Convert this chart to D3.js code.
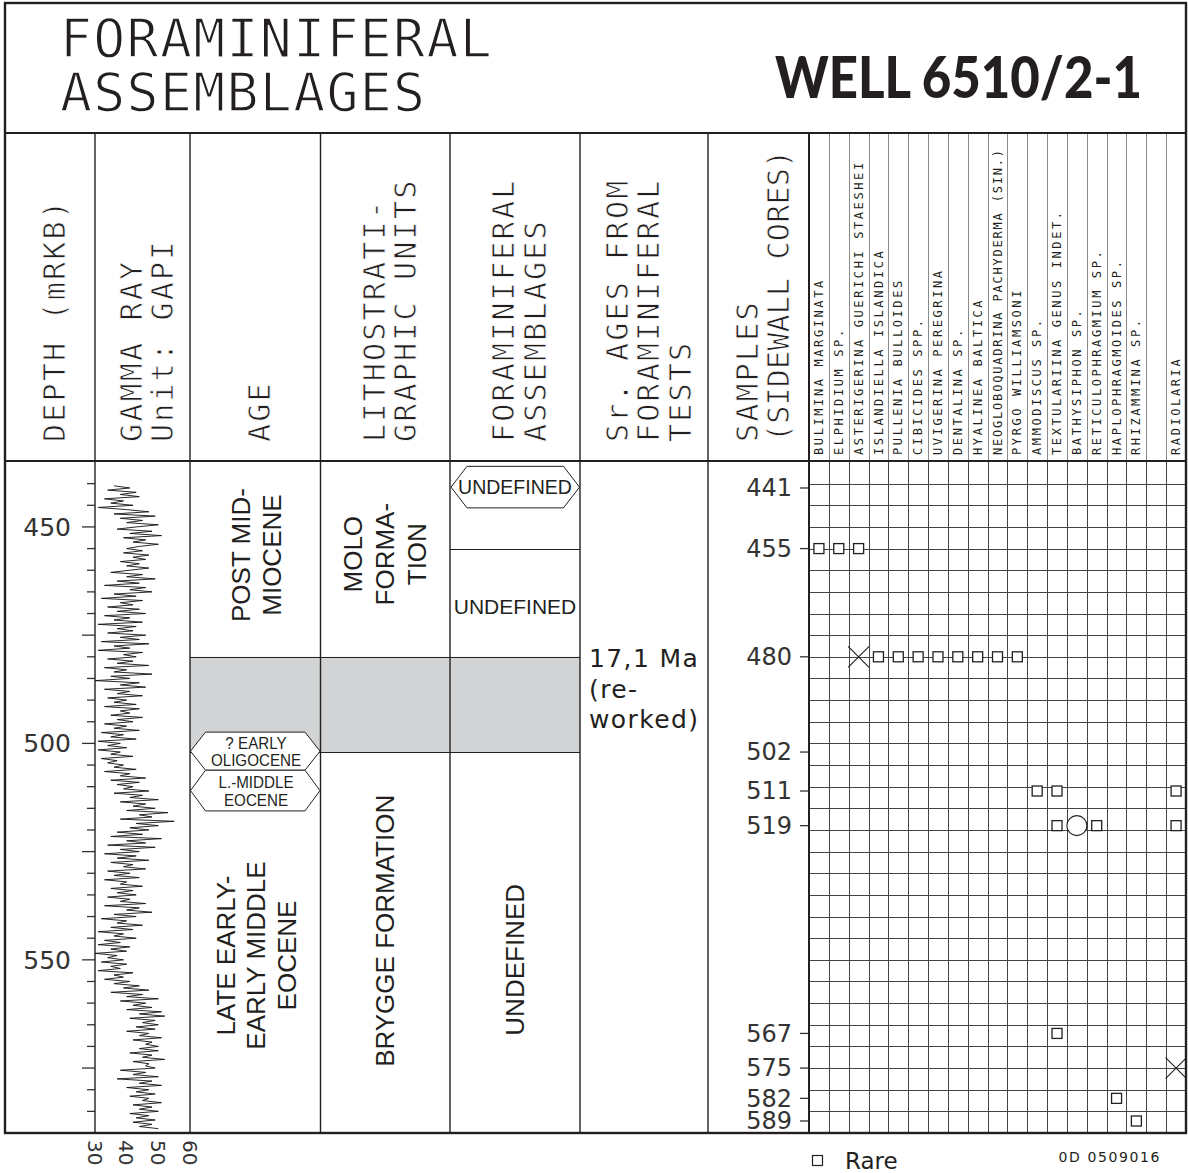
<!DOCTYPE html>
<html>
<head>
<meta charset="utf-8">
<script src="https://cdn.jsdelivr.net/npm/d3@7"></script>
<style>
body { margin: 0; background: #fff; }
svg { display: block; }
text { fill: #231f20; }
.thin { stroke: #fff; paint-order: normal; }
</style>
</head>
<body>
<script>
var width = 1188, height = 1173;
var ink = "#231f20";

var depthDomain = [435, 590];
var depthLabels = [450, 500, 550];
var depthMajor = [450, 475, 500, 525, 550, 575];
var gammaTicks = [30, 40, 50, 60];

// sidewall core samples (m RKB)
var sampleDepths = [441, 455, 480, 502, 511, 519, 567, 575, 582, 589];

var taxa = ["BULIMINA MARGINATA", "ELPHIDIUM SP.", "ASTERIGERINA GUERICHI STAESHEI",
  "ISLANDIELLA ISLANDICA", "PULLENIA BULLOIDES", "CIBICIDES SPP.", "UVIGERINA PEREGRINA",
  "DENTALINA SP.", "HYALINEA BALTICA", "NEOGLOBOQUADRINA PACHYDERMA (SIN.)",
  "PYRGO WILLIAMSONI", "AMMODISCUS SP.", "TEXTULARIINA GENUS INDET.", "BATHYSIPHON SP.",
  "RETICULOPHRAGMIUM SP.", "HAPLOPHRAGMOIDES SP.", "RHIZAMMINA SP.", "", "RADIOLARIA"];

// [sample depth, taxon, abundance]  r = rare, f = few, c = common
var occurrences = [
  [455, "BULIMINA MARGINATA", "r"], [455, "ELPHIDIUM SP.", "r"], [455, "ASTERIGERINA GUERICHI STAESHEI", "r"],
  [480, "ASTERIGERINA GUERICHI STAESHEI", "c"], [480, "ISLANDIELLA ISLANDICA", "r"],
  [480, "PULLENIA BULLOIDES", "r"], [480, "CIBICIDES SPP.", "r"], [480, "UVIGERINA PEREGRINA", "r"],
  [480, "DENTALINA SP.", "r"], [480, "HYALINEA BALTICA", "r"],
  [480, "NEOGLOBOQUADRINA PACHYDERMA (SIN.)", "r"], [480, "PYRGO WILLIAMSONI", "r"],
  [511, "AMMODISCUS SP.", "r"], [511, "TEXTULARIINA GENUS INDET.", "r"], [511, "RADIOLARIA", "r"],
  [519, "TEXTULARIINA GENUS INDET.", "r"], [519, "BATHYSIPHON SP.", "f"],
  [519, "RETICULOPHRAGMIUM SP.", "r"], [519, "RADIOLARIA", "r"],
  [567, "TEXTULARIINA GENUS INDET.", "r"],
  [575, "RADIOLARIA", "c"],
  [582, "HAPLOPHRAGMOIDES SP.", "r"],
  [589, "RHIZAMMINA SP.", "r"]
];

// gamma ray (GAPI), one reading every 0.5 m from 440.5 m
var gammaStart = 440.5, gammaStep = 0.5;
var gammaValues = [
  36,41,34,43,38,44,33,39,35,42, 31,40,47,36,49,38,45,40,50,43,
  37,48,41,51,39,46,42,50,44,40, 45,39,47,42,46,38,44,40,47,41,
  35,45,40,49,37,44,33,46,41,48, 36,43,32,45,38,42,34,44,37,46,
  33,41,36,45,31,43,37,42,34,46, 38,44,32,47,36,41,31,45,39,43,
  34,42,37,47,33,40,36,48,35,41, 30,44,38,46,33,41,37,45,34,40,
  36,43,33,44,38,41,35,45,37,42, 33,40,36,44,32,39,35,43,31,38,
  34,40,31,38,35,42,32,37,34,39, 36,43,33,41,38,46,35,44,37,42,
  39,47,36,45,41,50,38,46,42,49, 40,53,44,48,38,55,43,50,41,47,
  37,45,35,51,40,46,34,49,38,44, 33,43,37,47,35,42,39,46,34,41,
  36,44,33,40,38,45,35,42,37,43, 34,41,38,46,33,44,40,48,36,43,
  32,40,37,45,35,42,31,39,36,43, 33,38,31,41,35,40,30,37,34,39,
  32,40,35,38,31,42,36,39,33,41, 36,44,39,47,35,45,40,50,38,46,
  42,48,40,51,44,52,41,49,45,50, 43,49,40,47,44,51,42,48,46,50,
  44,50,41,48,45,52,42,47,46,49, 38,46,42,50,37,48,44,51,40,47,
  43,49,41,47,45,51,42,48,44,50, 41,47,43,49,42,48,44,50
];

// zonation columns
var ageZones = [
  {top: 435, base: 480, lines: ["POST MID-", "MIOCENE"], labelDepth: 456.5},
  {top: 502, base: 590, lines: ["LATE EARLY-", "EARLY MIDDLE", "EOCENE"], labelDepth: 549}
];
var ageMarkers = [
  {top: 497.4, base: 506.2, lines: ["? EARLY", "OLIGOCENE"]},
  {top: 506.2, base: 515.6, lines: ["L.-MIDDLE", "EOCENE"]}
];
var lithoZones = [
  {top: 435, base: 480, lines: ["MOLO", "FORMA-", "TION"], labelDepth: 456.3},
  {top: 502, base: 590, lines: ["BRYGGE FORMATION"], labelDepth: 543.3}
];
var foramZones = [
  {top: 436, base: 445.6, label: "UNDEFINED", style: "hex"},
  {top: 455, base: 480, label: "UNDEFINED", style: "flat"},
  {top: 502, base: 590, label: "UNDEFINED", style: "vertical", labelDepth: 550}
];
var unconformity = [480, 502];
var srAge = ["17,1 Ma", "(re-", "worked)"];

var headerTitles = [
  ["DEPTH (mRKB)"], ["GAMMA RAY", "Unit: GAPI"], ["AGE"], ["LITHOSTRATI-", "GRAPHIC UNITS"],
  ["FORAMINIFERAL", "ASSEMBLAGES"], ["Sr. AGES FROM", "FORAMINIFERAL", "TESTS"],
  ["SAMPLES", "(SIDEWALL CORES)"]
];

// ---- layout ----
var frameL = 5, frameR = 1186, frameT = 3, headTop = 133, headBottom = 461, bodyBottom = 1133;
var colEdges = [5, 95, 190, 320.5, 450, 580, 708, 809];
var mono = "'DejaVu Sans Mono', monospace";
var sans = "'Liberation Sans', Arial, sans-serif";
var humanist = "'DejaVu Sans', sans-serif";

var y = d3.scaleLinear().domain(depthDomain).range([462, bodyBottom]);
var gx = d3.scaleLinear().domain([30, 60]).range([95, 190]);
var tx = d3.scaleBand().domain(taxa).range([809, frameR]);

function sampleY(d) { return Math.min(y(d), bodyBottom - 12); }
function crisp(v) { return Math.round(v) + 0.5; }

var svg = d3.select("body").append("svg")
    .attr("width", width)
    .attr("height", height)
    .style("font-family", sans);

svg.append("rect").attr("width", width).attr("height", height).attr("fill", "#fff");

// title
var titleG = svg.append("g").attr("class", "thin")
    .style("font-family", mono).style("font-size", "53px").style("stroke-width", "1.3px")
    .style("letter-spacing", "1.4px");
titleG.append("text").attr("x", 60).attr("y", 57).text("FORAMINIFERAL");
titleG.append("text").attr("x", 60).attr("y", 111).text("ASSEMBLAGES");

// well name, squeezed horizontally to the width of the original lettering
var well = svg.append("text")
    .style("font-family", "Lato, 'Open Sans', sans-serif")
    .style("font-weight", 900)
    .style("font-size", "58px")
    .text("WELL 6510/2-1");
var wellW = well.node().getComputedTextLength();
well.attr("transform", "translate(775,98) scale(" + (367 / wellW) + ",1)");

// shaded unconformity band
svg.append("rect")
    .attr("x", 190).attr("y", y(unconformity[0]))
    .attr("width", 580 - 190).attr("height", y(unconformity[1]) - y(unconformity[0]))
    .attr("fill", "#d1d3d4");

// horizontal zone boundaries
var bounds = svg.append("g").attr("stroke", ink).attr("stroke-width", 1.2);
unconformity.forEach(function(d) {
  bounds.append("line").attr("x1", 190).attr("x2", 580).attr("y1", crisp(y(d))).attr("y2", crisp(y(d)));
});
bounds.append("line").attr("x1", 450).attr("x2", 580).attr("y1", crisp(y(455))).attr("y2", crisp(y(455)));

// header titles
var headG = svg.append("g").attr("class", "thin")
    .style("font-family", mono).style("font-size", "30px").style("stroke-width", "0.8px");
headerTitles.forEach(function(lines, i) {
  var cx = (colEdges[i] + colEdges[i + 1]) / 2 + 4;
  var n = lines.length;
  lines.forEach(function(s, j) {
    var bx = cx + (j - (n - 1) / 2) * 31.5 + 11;
    var t = headG.append("text")
        .attr("transform", "translate(" + bx + ",442) rotate(-90)")
        .text(s);
    if (s.length * 20 > 292) {
      t.attr("textLength", 292).attr("lengthAdjust", "spacing");
    } else {
      t.style("letter-spacing", "2.2px");
    }
  });
});

// taxon names
var taxG = svg.append("g").style("font-family", mono).style("font-size", "12px");
taxa.forEach(function(name) {
  if (!name) return;
  var t = taxG.append("text")
      .attr("transform", "translate(" + (tx(name) + 14) + ",455) rotate(-90)")
      .text(name);
  if (name.length * 9.8 > 305) {
    t.attr("textLength", 305).attr("lengthAdjust", "spacing");
  } else {
    t.style("letter-spacing", "2.6px");
  }
});

// taxon grid
var grid = svg.append("g");
tx.domain().forEach(function(name, i) {
  if (i === 0) return;
  var xv = crisp(tx(name));
  grid.append("line").attr("x1", xv).attr("x2", xv).attr("y1", headTop).attr("y2", headBottom)
      .attr("stroke", "#8a8a8a").attr("stroke-width", 1);
  grid.append("line").attr("x1", xv).attr("x2", xv).attr("y1", headBottom).attr("y2", bodyBottom)
      .attr("stroke", "#444").attr("stroke-width", 1);
});
d3.range(440, 590, 5).forEach(function(d) {
  grid.append("line").attr("x1", 809).attr("x2", frameR)
      .attr("y1", crisp(y(d))).attr("y2", crisp(y(d)))
      .attr("stroke", "#444").attr("stroke-width", 1);
});

// depth ticks
var depthG = svg.append("g").attr("stroke", "#333").attr("stroke-width", 1.3);
d3.range(440, 590, 5).forEach(function(d) {
  var major = depthMajor.indexOf(d) >= 0;
  depthG.append("line").attr("x1", major ? 82 : 87).attr("x2", 95)
      .attr("y1", y(d)).attr("y2", y(d));
});
svg.append("g").selectAll("text").data(depthLabels).enter().append("text")
    .attr("x", 71).attr("y", function(d) { return y(d); }).attr("dy", "0.35em")
    .attr("text-anchor", "end")
    .style("font-family", humanist).style("font-size", "25px").style("fill", "#333")
    .text(function(d) { return d; });

// gamma ray curve
var gammaLine = d3.line()
    .x(function(d) { return gx(d); })
    .y(function(d, i) { return y(gammaStart + i * gammaStep); });
svg.append("path").datum(gammaValues)
    .attr("d", gammaLine)
    .attr("fill", "none").attr("stroke", "#111").attr("stroke-width", 0.9)
    .attr("stroke-linejoin", "miter");

svg.append("g").selectAll("text").data(gammaTicks).enter().append("text")
    .attr("transform", function(d) { return "translate(" + (gx(d) - 7.5) + ",1140) rotate(90)"; })
    .style("font-family", humanist).style("font-size", "20px").style("fill", "#333")
    .text(function(d) { return d; });

// rotated multi-line labels
function vtext(lines, cx, cy, size, spacing) {
  var n = lines.length;
  lines.forEach(function(s, i) {
    var bx = cx + (i - (n - 1) / 2) * spacing + size * 0.36;
    svg.append("text")
        .attr("transform", "translate(" + bx + "," + cy + ") rotate(-90)")
        .attr("text-anchor", "middle")
        .style("font-size", size + "px")
        .text(s);
  });
}
function hexagon(x0, x1, y0, y1, inset) {
  var ym = (y0 + y1) / 2;
  return "M" + x0 + "," + ym + "L" + (x0 + inset) + "," + y0 + "L" + (x1 - inset) + "," + y0 +
    "L" + x1 + "," + ym + "L" + (x1 - inset) + "," + y1 + "L" + (x0 + inset) + "," + y1 + "Z";
}

ageZones.forEach(function(z) { vtext(z.lines, 256, y(z.labelDepth), 26, 30.5); });
lithoZones.forEach(function(z) { vtext(z.lines, 385, y(z.labelDepth), 26, 32); });

ageMarkers.forEach(function(m) {
  var y0 = y(m.top), y1 = y(m.base);
  svg.append("path").attr("d", hexagon(190.5, 320, y0, y1, 15))
      .attr("fill", "#fff").attr("stroke", ink).attr("stroke-width", 1);
  var mid = (y0 + y1) / 2;
  m.lines.forEach(function(s, i) {
    svg.append("text")
        .attr("transform", "translate(256," + (mid - 2.5 + (i === 0 ? 0 : 17.5)) + ") scale(0.92,1)")
        .attr("text-anchor", "middle")
        .style("font-size", "16.5px")
        .text(s);
  });
});

foramZones.forEach(function(z) {
  if (z.style === "hex") {
    var y0 = y(z.top), y1 = y(z.base);
    svg.append("path").attr("d", hexagon(451, 579.5, y0, y1, 16))
        .attr("fill", "#fff").attr("stroke", ink).attr("stroke-width", 1);
    svg.append("text").attr("x", 515).attr("y", (y0 + y1) / 2).attr("dy", "0.36em")
        .attr("text-anchor", "middle").style("font-size", "19.5px").text(z.label);
  } else if (z.style === "flat") {
    svg.append("text").attr("x", 515).attr("y", (y(z.top) + y(z.base)) / 2 + 11)
        .attr("text-anchor", "middle").style("font-size", "21px").text(z.label);
  } else {
    vtext([z.label], 515, y(z.labelDepth), 26, 30);
  }
});

// Sr age note
var srG = svg.append("g").style("font-family", humanist).style("font-size", "25px")
    .style("letter-spacing", "1.4px");
srAge.forEach(function(s, i) {
  srG.append("text").attr("x", 589).attr("y", 667 + i * 30.5).text(s);
});

// sample depths
var sampG = svg.append("g");
sampleDepths.forEach(function(d) {
  var yy = sampleY(d);
  sampG.append("line").attr("x1", 800).attr("x2", 809).attr("y1", yy).attr("y2", yy)
      .attr("stroke", "#333").attr("stroke-width", 1.3);
  sampG.append("text").attr("x", 792).attr("y", yy).attr("dy", "0.35em")
      .attr("text-anchor", "end")
      .style("font-family", humanist).style("font-size", "24px").style("fill", "#333")
      .text(d);
});

// occurrence symbols
var occG = svg.append("g");
occurrences.forEach(function(o) {
  var cx = tx(o[1]) + tx.bandwidth() / 2, cy = sampleY(o[0]);
  if (o[2] === "r") {
    occG.append("rect").attr("x", cx - 5).attr("y", cy - 5).attr("width", 10).attr("height", 10)
        .attr("fill", "#fff").attr("stroke", ink).attr("stroke-width", 1.3);
  } else if (o[2] === "c") {
    occG.append("path")
        .attr("d", "M" + (cx - 10.5) + "," + (cy - 10.5) + "L" + (cx + 10.5) + "," + (cy + 10.5) +
          "M" + (cx - 10.5) + "," + (cy + 10.5) + "L" + (cx + 10.5) + "," + (cy - 10.5))
        .attr("stroke", ink).attr("stroke-width", 1.1).attr("fill", "none");
  } else {
    occG.append("circle").attr("cx", cx).attr("cy", cy).attr("r", 10)
        .attr("fill", "#fff").attr("stroke", ink).attr("stroke-width", 1.1);
  }
});

// frame and column rules
var frame = svg.append("g").attr("stroke", ink).attr("fill", "none");
frame.append("rect").attr("x", frameL).attr("y", frameT)
    .attr("width", frameR - frameL).attr("height", bodyBottom - frameT).attr("stroke-width", 2.4);
frame.append("line").attr("x1", frameL).attr("x2", frameR).attr("y1", headTop).attr("y2", headTop).attr("stroke-width", 2);
frame.append("line").attr("x1", frameL).attr("x2", frameR).attr("y1", headBottom).attr("y2", headBottom).attr("stroke-width", 2);
colEdges.slice(1).forEach(function(xv, i) {
  frame.append("line").attr("x1", xv).attr("x2", xv).attr("y1", headTop).attr("y2", bodyBottom)
      .attr("stroke-width", i === colEdges.length - 2 ? 2 : 1.4);
});

// legend and drawing number
svg.append("rect").attr("x", 812.5).attr("y", 1155.5).attr("width", 10).attr("height", 10)
    .attr("fill", "#fff").attr("stroke", ink).attr("stroke-width", 1.2);
svg.append("text").attr("x", 845).attr("y", 1169)
    .style("font-family", humanist).style("font-size", "23px").text("Rare");
svg.append("text").attr("x", 1161).attr("y", 1162).attr("text-anchor", "end")
    .style("font-family", humanist).style("font-size", "14px").style("letter-spacing", "1.6px")
    .text("0D 0509016");
</script>
</body>
</html>
